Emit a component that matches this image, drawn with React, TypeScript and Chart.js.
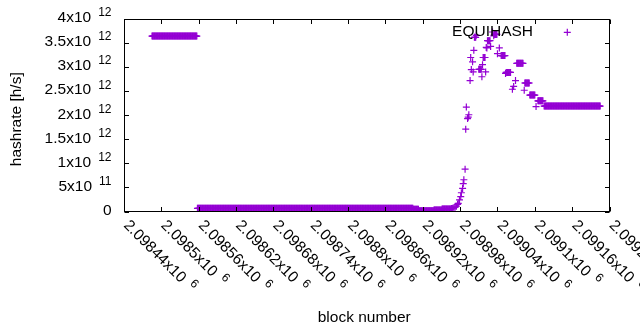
import React, { useEffect, useRef } from "react";
import { Chart, registerables } from "chart.js";

Chart.register(...registerables);

// ---------- data ----------
const seriesLabel = "EQUIHASH";
const seriesColor = "#9400D3";

// runs of consecutive blocks with the same hashrate (start block, end block, hashrate in h/s)
const runStart = [
  2098485, 2098558, 2098905, 2098914, 2098938, 2098951,
  2098966, 2098968, 2098970, 2098972, 2098974, 2098976, 2098977, 2098979, 2098981, 2098982,
  2098984, 2098985, 2098986, 2098988, 2098989, 2098990, 2098992, 2098993, 2098994,
  2098996, 2098997, 2098998, 2099000, 2099001, 2099002, 2099003, 2099006, 2099010, 2099015,
  2099016, 2099017, 2099021, 2099022, 2099023, 2099024, 2099029, 2099032, 2099034, 2099035,
  2099040, 2099043, 2099046, 2099053, 2099054, 2099064, 2099066, 2099069, 2099071, 2099083,
  2099084, 2099092, 2099102, 2099105, 2099115,
];
const runEnd = [
  2098557, 2098904, 2098913, 2098937, 2098950, 2098965,
  2098966, 2098968, 2098970, 2098972, 2098974, 2098976, 2098977, 2098979, 2098981, 2098982,
  2098984, 2098985, 2098986, 2098988, 2098989, 2098990, 2098992, 2098993, 2098994,
  2098996, 2098997, 2098998, 2099000, 2099001, 2099002, 2099005, 2099006, 2099014, 2099015,
  2099016, 2099020, 2099021, 2099022, 2099023, 2099028, 2099029, 2099032, 2099034, 2099039,
  2099040, 2099043, 2099052, 2099053, 2099061, 2099064, 2099066, 2099069, 2099081, 2099083,
  2099091, 2099100, 2099102, 2099113, 2099205,
];
const runHashrate = [
  3.645e12, 6.6e10, 4.8e10, 1.5e10, 3.0e10, 5.0e10,
  6.0e10, 7.0e10, 8.0e10, 9.0e10, 1.1e11, 1.5e11, 1.7e11, 2.4e11, 3.1e11, 3.9e11,
  4.8e11, 5.8e11, 6.6e11, 8.8e11, 1.71e12, 2.17e12, 1.93e12, 1.96e12, 2.01e12,
  2.72e12, 3.2e12, 2.95e12, 3.11e12, 2.9e12, 3.35e12, 3.62e12, 3.66e12, 2.955e12, 2.8e12,
  3.05e12, 3.2e12, 2.9e12, 3.41e12, 3.4e12, 3.55e12, 3.43e12, 3.73e12, 3.65e12, 3.68e12,
  3.28e12, 3.4e12, 3.24e12, 2.87e12, 2.89e12, 2.54e12, 2.6e12, 2.72e12, 3.08e12, 2.52e12,
  2.67e12, 2.42e12, 2.18e12, 2.3e12, 2.19e12,
];

const xMin = 2098440;
const xMax = 2099220;
const xTickValues = [
  2098440, 2098500, 2098560, 2098620, 2098680, 2098740, 2098800,
  2098860, 2098920, 2098980, 2099040, 2099100, 2099160, 2099220,
];
const xTickLabels = [
  "2.09844x10^6", "2.0985x10^6", "2.09856x10^6", "2.09862x10^6", "2.09868x10^6",
  "2.09874x10^6", "2.0988x10^6", "2.09886x10^6", "2.09892x10^6", "2.09898x10^6",
  "2.09904x10^6", "2.0991x10^6", "2.09916x10^6", "2.09922x10^6",
];
const yMin = 0;
const yMax = 4e12;
const yTickValues = [0, 5e11, 1e12, 1.5e12, 2e12, 2.5e12, 3e12, 3.5e12, 4e12];
const yTickLabels = [
  "0", "5x10^11", "1x10^12", "1.5x10^12", "2x10^12",
  "2.5x10^12", "3x10^12", "3.5x10^12", "4x10^12",
];
const xTitle = "block number";
const yTitle = "hashrate [h/s]";

// ---------- drawing helpers ----------
const FONT_FAMILY = "'Liberation Sans', Arial, sans-serif";
const MAIN_FONT = `15.5px ${FONT_FAMILY}`;
const SUP_FONT = `12px ${FONT_FAMILY}`;
const TEXT_COLOR = "#000";
const TICK_LEN = 4.5;

function splitLabel(s: string): [string, string] {
  const i = s.indexOf("^");
  return i < 0 ? [s, ""] : [s.slice(0, i), s.slice(i + 1)];
}

function drawCross(ctx: CanvasRenderingContext2D, x: number, y: number, r: number) {
  ctx.beginPath();
  ctx.moveTo(x - r, y);
  ctx.lineTo(x + r, y);
  ctx.moveTo(x, y - r);
  ctx.lineTo(x, y + r);
  ctx.stroke();
}

const gnuplotFrame = {
  id: "gnuplotFrame",
  afterDatasetsDraw(chart: any) {
    const { ctx, chartArea: a, scales } = chart;
    const xs = scales.x;
    const ys = scales.y;
    ctx.save();

    // border
    ctx.strokeStyle = "#000";
    ctx.lineWidth = 1;
    const L = Math.round(a.left) + 0.5;
    const R = Math.round(a.right) - 0.5;
    const T = Math.round(a.top) + 0.5;
    const B = Math.round(a.bottom) - 0.5;
    ctx.strokeRect(L, T, R - L, B - T);

    // ticks (inward, mirrored)
    ctx.beginPath();
    yTickValues.forEach((v) => {
      const p = Math.round(ys.getPixelForValue(v)) + 0.5;
      ctx.moveTo(L, p);
      ctx.lineTo(L + TICK_LEN, p);
      ctx.moveTo(R, p);
      ctx.lineTo(R - TICK_LEN, p);
    });
    xTickValues.forEach((v) => {
      const p = Math.round(xs.getPixelForValue(v)) + 0.5;
      ctx.moveTo(p, B);
      ctx.lineTo(p, B - TICK_LEN);
      ctx.moveTo(p, T);
      ctx.lineTo(p, T + TICK_LEN);
    });
    ctx.stroke();

    ctx.fillStyle = TEXT_COLOR;

    // y tick labels
    const yRight = a.left - 12.5;
    yTickValues.forEach((v, i) => {
      const p = ys.getPixelForValue(v) - 1;
      const [main, sup] = splitLabel(yTickLabels[i]);
      ctx.textBaseline = "middle";
      if (sup) {
        ctx.font = SUP_FONT;
        const sw = ctx.measureText(sup).width;
        ctx.textAlign = "left";
        ctx.fillText(sup, yRight - sw, p - 5);
        ctx.font = MAIN_FONT;
        ctx.textAlign = "right";
        ctx.fillText(main, yRight - sw - 7, p);
      } else {
        ctx.font = MAIN_FONT;
        ctx.textAlign = "right";
        ctx.fillText(main, yRight, p);
      }
    });

    // x tick labels, rotated by -45 (running down-right)
    xTickValues.forEach((v, i) => {
      const p = xs.getPixelForValue(v);
      const [main, sup] = splitLabel(xTickLabels[i]);
      ctx.save();
      ctx.translate(p + 2, a.bottom + 11.5);
      ctx.rotate(Math.PI / 4);
      ctx.textBaseline = "middle";
      ctx.textAlign = "left";
      ctx.font = MAIN_FONT;
      ctx.fillText(main, 0, 0);
      const w = ctx.measureText(main).width;
      if (sup) {
        ctx.font = SUP_FONT;
        ctx.fillText(sup, w + 7, -5);
      }
      ctx.restore();
    });

    // axis titles
    ctx.font = MAIN_FONT;
    ctx.textAlign = "center";
    ctx.textBaseline = "alphabetic";
    ctx.fillText(xTitle, (a.left + a.right) / 2 - 2.5, 322);
    ctx.save();
    ctx.translate(21, (a.top + a.bottom) / 2 + 4);
    ctx.rotate(-Math.PI / 2);
    ctx.fillText(yTitle, 0, 0);
    ctx.restore();

    // key (inside, top right)
    const ds = chart.data.datasets[0];
    ctx.textAlign = "right";
    ctx.textBaseline = "middle";
    ctx.fillText(ds.label, a.right - 76.5, a.top + 12.5);
    ctx.strokeStyle = ds.borderColor;
    ctx.lineWidth = ds.borderWidth;
    drawCross(ctx, a.right - 42.2, a.top + 13.3, ds.pointRadius);

    ctx.restore();
  },
};

export default function App() {
  const ref = useRef<HTMLCanvasElement | null>(null);

  useEffect(() => {
    if (!ref.current) return;
    const points: { x: number; y: number }[] = [];
    runStart.forEach((s, i) => {
      for (let b = s; b <= runEnd[i]; b++) points.push({ x: b, y: runHashrate[i] });
    });

    const chart = new Chart(ref.current, {
      type: "scatter",
      data: {
        datasets: [
          {
            label: seriesLabel,
            data: points,
            showLine: false,
            pointStyle: "cross",
            pointRadius: 3.5,
            pointHoverRadius: 3.5,
            borderWidth: 1.2,
            borderColor: seriesColor,
            backgroundColor: seriesColor,
          } as any,
        ],
      },
      options: {
        animation: false,
        responsive: false,
        devicePixelRatio: 1,
        events: [],
        layout: { padding: { left: 124, right: 30.5, top: 19, bottom: 118.5 } },
        plugins: { legend: { display: false }, tooltip: { enabled: false } },
        scales: {
          x: { type: "linear", min: xMin, max: xMax, display: false },
          y: { type: "linear", min: yMin, max: yMax, display: false },
        },
      },
      plugins: [gnuplotFrame],
    });
    return () => chart.destroy();
  }, []);

  return (
    <div style={{ position: "absolute", left: 0, top: 0, width: 640, height: 330, background: "#fff" }}>
      <canvas ref={ref} width={640} height={330} style={{ display: "block" }} />
    </div>
  );
}
